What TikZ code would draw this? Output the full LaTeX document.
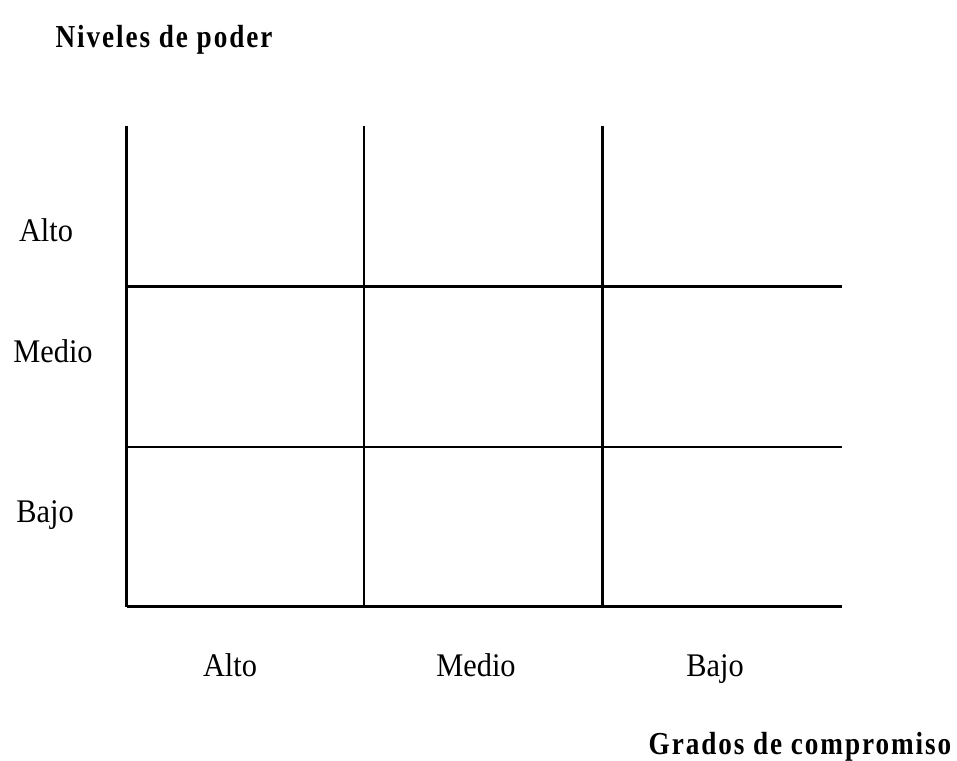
\documentclass[tikz,border=0pt]{standalone}
\usepackage{fontspec}
\setmainfont{Liberation Serif}[FakeStretch=0.92]
\newfontfamily\titlefont{Liberation Serif}[FakeStretch=0.85,LetterSpace=6]
\usepackage{tikz}

\begin{document}
\begin{tikzpicture}[x=1pt,y=-1pt]
\tikzstyle{every node}+=[inner sep=0pt,anchor=base]
\tikzstyle{lbl}=[font=\fontsize{33}{38}\selectfont]
\tikzstyle{ttl}=[font=\titlefont\bfseries\fontsize{32}{38}\selectfont]
\useasboundingbox (0,0) rectangle (957,760);
% grid corners
\coordinate (t1) at (126.5,125.5);
\coordinate (t2) at (364,125.5);
\coordinate (t3) at (602.5,125.5);
\coordinate (b1) at (126.5,606.5);
\coordinate (b2) at (364,606.5);
\coordinate (b3) at (602.5,606.5);
\coordinate (b4) at (842,606.5);
\coordinate (m1) at (126.5,286.5);
\coordinate (m4) at (842,286.5);
\coordinate (n1) at (126.5,447);
\coordinate (n4) at (842,447);
\draw [black,line width=2.3pt] (t1) -- (b1);
\draw [black,line width=2.3pt] (t2) -- (b2);
\draw [black,line width=2.3pt] (t3) -- (b3);
\draw [black,line width=2.3pt] (m1) -- (m4);
\draw [black,line width=2.3pt] (n1) -- (n4);
\draw [black,line width=2.3pt] (b1) -- (b4);
% labels
\node [ttl] (poder) at (164,48) {Niveles de poder};
\node [lbl] (alto1) at (46,241) {Alto};
\node [lbl] (medio1) at (53,362) {Medio};
\node [lbl] (bajo1) at (45,522) {Bajo};
\node [lbl] (alto2) at (230,676) {Alto};
\node [lbl] (medio2) at (476,676) {Medio};
\node [lbl] (bajo2) at (715,676) {Bajo};
\node [ttl] (grados) at (800,754) {Grados de compromiso};
\end{tikzpicture}
\end{document}
